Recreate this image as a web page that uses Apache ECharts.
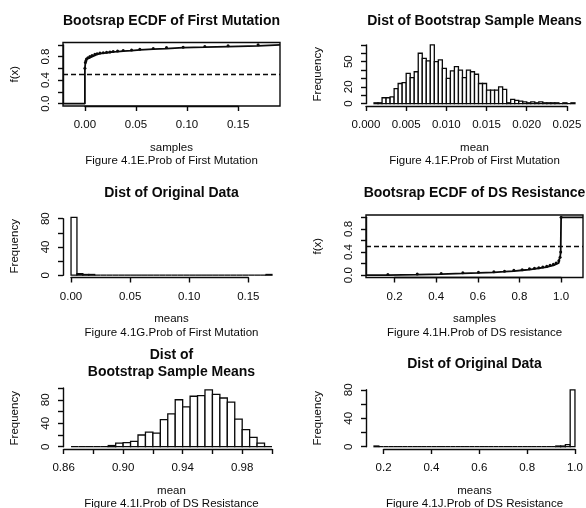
<!DOCTYPE html>
<html>
<head>
<meta charset="utf-8">
<title>Figure 4.1E-J</title>
<script src="https://cdn.jsdelivr.net/npm/echarts@6.0.0/dist/echarts.min.js"></script>
<style>
  html, body { margin: 0; padding: 0; background: #fff; }
  #chart { width: 586px; height: 508px; }
</style>
</head>
<body>
<div id="chart"></div>
<script>
// ---- values ----

// 4.1E  bootstrap ECDF of first mutation: jump points and ECDF level after each jump
const eStepX = [0.0000, 0.0005, 0.0010, 0.0016, 0.0030, 0.0049, 0.0070, 0.0098, 0.0120, 0.0147, 0.0180, 0.0212,
                0.0245, 0.0277, 0.0320, 0.0375, 0.0457, 0.0538, 0.0669, 0.0799, 0.0962, 0.1174, 0.1402, 0.1696];
const eStepF = [0.60, 0.70, 0.73, 0.76, 0.78, 0.80, 0.82, 0.84, 0.85, 0.86, 0.865, 0.874,
                0.88, 0.886, 0.895, 0.903, 0.914, 0.926, 0.937, 0.954, 0.96, 0.97, 0.983, 1.0];

// 4.1F  bootstrap sample means histogram (breaks from 0.001, width 0.0005)
const fBreak0 = 0.001, fBinWidth = 0.0005;
const fCounts = [1, 1, 7, 7, 8, 18, 24, 25, 36, 31, 38, 60, 54, 51, 70, 50, 52, 42, 30, 39,
                 44, 40, 31, 40, 38, 35, 24, 24, 16, 16, 16, 20, 17, 1, 5, 4, 3, 2, 1, 2,
                 1, 2, 1, 1, 1, 1, 0, 1, 0, 1];

// 4.1G  original data histogram (breaks from 0, width 0.005)
const gBreak0 = 0, gBinWidth = 0.005;
const gCounts = [82, 2, 1, 1, 0, 0, 0, 0, 0, 0, 0, 0, 0, 0, 0, 0, 0,
                 0, 0, 0, 0, 0, 0, 0, 0, 0, 0, 0, 0, 0, 0, 0, 0, 1];

// 4.1H  bootstrap ECDF of DS resistance
const hStepX = [0.168, 0.309, 0.424, 0.528, 0.603, 0.677, 0.728, 0.773, 0.813, 0.848, 0.872,
                0.893, 0.912, 0.931, 0.947, 0.963, 0.976, 0.989, 0.995, 0.998, 1.0];
const hStepF = [0.01, 0.02, 0.03, 0.04, 0.05, 0.06, 0.07, 0.085, 0.095, 0.11, 0.12,
                0.13, 0.14, 0.155, 0.17, 0.19, 0.21, 0.25, 0.31, 0.40, 1.0];

// 4.1I  bootstrap sample means histogram (breaks from 0.865, width 0.005)
const iBreak0 = 0.865, iBinWidth = 0.005;
const iCounts = [0, 0, 0, 0, 0, 2, 6, 7, 9, 20, 25, 23, 46, 56, 80, 68, 86, 87, 97, 89,
                 83, 76, 47, 29, 16, 6, 0];

// 4.1J  original data histogram (breaks from 0.16, width 0.02)
const jBreak0 = 0.16, jBinWidth = 0.02;
const jCounts = [1, 0, 0, 0, 0, 0, 0, 0, 0, 0, 0, 0, 0, 0, 0, 0, 0, 0, 0, 0, 0,
                 0, 0, 0, 0, 0, 0, 0, 0, 0, 0, 0, 0, 0, 0, 0, 0, 0, 1, 1, 3, 80];

// tick marks and the tick labels R kept
const ecdfYTicks = [0, 0.2, 0.4, 0.6, 0.8, 1.0];
const ecdfYLabels = [0, 0.4, 0.8];
const eXTicks = [0, 0.05, 0.10, 0.15];
const fXTicks = [0, 0.005, 0.010, 0.015, 0.020, 0.025];
const fYTicks = [0, 10, 20, 30, 40, 50, 60, 70];
const fYLabels = [0, 20, 50];
const gXTicks = [0, 0.05, 0.10, 0.15];
const gYTicks = [0, 20, 40, 60, 80];
const gYLabels = [0, 40, 80];
const hXTicks = [0.2, 0.4, 0.6, 0.8, 1.0];
const iXTicks = [0.86, 0.88, 0.90, 0.92, 0.94, 0.96, 0.98, 1.00];
const iXLabels = [0.86, 0.90, 0.94, 0.98];
const iYTicks = [0, 20, 40, 60, 80, 100];
const iYLabels = [0, 40, 80];
const jXTicks = [0.2, 0.4, 0.6, 0.8, 1.0];
const jYTicks = [0, 20, 40, 60, 80];
const jYLabels = [0, 40, 80];

// ---- layout ----
const FONT = '"Liberation Sans", Arial, Helvetica, sans-serif';
const INK = '#0a0a0a';
const COL_LEFT = [63, 366];
const COL_WIDTH = 217;
const ROW_TOP = [42.5, 215, 387.5];
const ROW_HEIGHT = [63.5, 62.5, 61.5];

const panels = [
  { col: 0, row: 0, kind: 'ecdf', stepX: eStepX, stepF: eStepF, box: true,
    title: 'Bootsrap ECDF of First Mutation', titleTop: 13,
    xName: 'samples', caption: 'Figure 4.1E.Prob of First Mutation', yName: 'f(x)',
    xTicks: eXTicks, xLabels: eXTicks, xDigits: 2, yTicks: ecdfYTicks, yLabels: ecdfYLabels, yDigits: 1 },
  { col: 1, row: 0, kind: 'hist', b0: fBreak0, w: fBinWidth, counts: fCounts,
    title: 'Dist of Bootstrap Sample Means', titleTop: 13,
    xName: 'mean', caption: 'Figure 4.1F.Prob of First Mutation', yName: 'Frequency',
    xTicks: fXTicks, xLabels: fXTicks, xDigits: 3, yTicks: fYTicks, yLabels: fYLabels, yDigits: 0 },
  { col: 0, row: 1, kind: 'hist', b0: gBreak0, w: gBinWidth, counts: gCounts,
    title: 'Dist of Original Data', titleTop: 184.5,
    xName: 'means', caption: 'Figure 4.1G.Prob of First Mutation', yName: 'Frequency',
    xTicks: gXTicks, xLabels: gXTicks, xDigits: 2, yTicks: gYTicks, yLabels: gYLabels, yDigits: 0 },
  { col: 1, row: 1, kind: 'ecdf', stepX: hStepX, stepF: hStepF, box: true,
    title: 'Bootsrap ECDF of DS Resistance', titleTop: 184.5,
    xName: 'samples', caption: 'Figure 4.1H.Prob of DS resistance', yName: 'f(x)',
    xTicks: hXTicks, xLabels: hXTicks, xDigits: 1, yTicks: ecdfYTicks, yLabels: ecdfYLabels, yDigits: 1 },
  { col: 0, row: 2, kind: 'hist', b0: iBreak0, w: iBinWidth, counts: iCounts,
    title: 'Dist of\nBootstrap Sample Means', titleTop: 346.5,
    xName: 'mean', caption: 'Figure 4.1I.Prob of DS Resistance', yName: 'Frequency',
    xTicks: iXTicks, xLabels: iXLabels, xDigits: 2, yTicks: iYTicks, yLabels: iYLabels, yDigits: 0 },
  { col: 1, row: 2, kind: 'hist', b0: jBreak0, w: jBinWidth, counts: jCounts,
    title: 'Dist of Original Data', titleTop: 356,
    xName: 'means', caption: 'Figure 4.1J.Prob of DS Resistance', yName: 'Frequency',
    xTicks: jXTicks, xLabels: jXTicks, xDigits: 1, yTicks: jYTicks, yLabels: jYLabels, yDigits: 0 }
];

// R's default scales: hist spans the breaks, plot.ecdf pads the knots by 8%; both then add 4%
function histLims(p) {
  const b1 = p.b0 + p.counts.length * p.w, pad = 0.04 * (b1 - p.b0);
  const top = Math.max(...p.counts);
  return { xlim: [p.b0 - pad, b1 + pad], ylim: [-0.04 * top, 1.04 * top] };
}
function ecdfLims(p) {
  const lo = p.stepX[0], hi = p.stepX[p.stepX.length - 1], dr = 0.08 * (hi - lo);
  const a = lo - dr, b = hi + dr, pad = 0.04 * (b - a);
  return { xlim: [a - pad, b + pad], ylim: [-0.04, 1.04] };
}
function labelFormatter(labels, digits) {
  return v => labels.some(l => Math.abs(l - v) < 1e-9) ? v.toFixed(digits) : '';
}
function renderBin(params, api) {
  const a = api.coord([api.value(0), 0]);
  const b = api.coord([api.value(1), api.value(2)]);
  return {
    type: 'rect',
    shape: { x: a[0], y: b[1], width: b[0] - a[0], height: a[1] - b[1] },
    style: { fill: '#fff', stroke: INK, lineWidth: 1.3 }
  };
}

const axisLineStyle = { color: INK, width: 1.4 };
const tickFont = { fontFamily: FONT, fontSize: 11.5, color: INK };
const nameFont = { fontFamily: FONT, fontSize: 11.5, color: INK };

const option = { animation: false, backgroundColor: '#fff', title: [], grid: [], xAxis: [], yAxis: [], series: [] };

panels.forEach(p => {
  const L = COL_LEFT[p.col], W = COL_WIDTH, T = ROW_TOP[p.row], H = ROW_HEIGHT[p.row];
  const lims = p.kind === 'ecdf' ? ecdfLims(p) : histLims(p);
  const [x0, x1] = lims.xlim, [y0, y1] = lims.ylim;
  const g = option.grid.length;

  // plot region (data)
  option.grid.push({ left: L, top: T, width: W, height: H, show: !!p.box, borderColor: INK, borderWidth: 1.4,
                     backgroundColor: 'transparent', containLabel: false, outerBoundsMode: 'none' });
  option.xAxis.push({ gridIndex: g, type: 'value', min: x0, max: x1,
    axisLine: { show: false }, axisTick: { show: false }, axisLabel: { show: false }, splitLine: { show: false },
    name: p.xName + '\n' + p.caption, nameLocation: 'middle', nameGap: 35,
    nameTextStyle: Object.assign({ lineHeight: 13.5 }, nameFont) });
  option.yAxis.push({ gridIndex: g, type: 'value', min: y0, max: y1,
    axisLine: { show: false }, axisTick: { show: false }, axisLabel: { show: false }, splitLine: { show: false },
    name: p.yName, nameLocation: 'middle', nameRotate: 90, nameGap: 42, nameTextStyle: nameFont });

  // x axis drawn from first to last tick, like R's axis()
  const xt = p.xTicks, xa = xt[0], xb = xt[xt.length - 1];
  option.grid.push({ left: L + (xa - x0) / (x1 - x0) * W, width: (xb - xa) / (x1 - x0) * W, top: T, height: H,
                     containLabel: false, outerBoundsMode: 'none' });
  option.xAxis.push({ gridIndex: g + 1, type: 'value', min: xa, max: xb, interval: +(xt[1] - xt[0]).toFixed(6),
    axisLine: { show: true, onZero: false, lineStyle: axisLineStyle },
    axisTick: { show: true, length: 5, lineStyle: axisLineStyle },
    axisLabel: Object.assign({ margin: 13, showMinLabel: true, showMaxLabel: true, hideOverlap: false,
                               formatter: labelFormatter(p.xLabels, p.xDigits) }, tickFont),
    splitLine: { show: false } });
  option.yAxis.push({ gridIndex: g + 1, type: 'value', show: false, min: 0, max: 1 });

  // y axis drawn from first to last tick
  const yt = p.yTicks, ya = yt[0], yb = yt[yt.length - 1];
  option.grid.push({ left: L, width: W, top: T + (y1 - yb) / (y1 - y0) * H, height: (yb - ya) / (y1 - y0) * H,
                     containLabel: false, outerBoundsMode: 'none' });
  option.xAxis.push({ gridIndex: g + 2, type: 'value', show: false, min: 0, max: 1 });
  option.yAxis.push({ gridIndex: g + 2, type: 'value', min: ya, max: yb, interval: +(yt[1] - yt[0]).toFixed(6),
    axisLine: { show: true, onZero: false, lineStyle: axisLineStyle },
    axisTick: { show: true, length: 5, lineStyle: axisLineStyle },
    axisLabel: Object.assign({ rotate: 90, margin: 11, showMinLabel: true, showMaxLabel: true, hideOverlap: false,
                               formatter: labelFormatter(p.yLabels, p.yDigits) }, tickFont),
    splitLine: { show: false } });

  option.title.push({ text: p.title, left: L + W / 2, top: p.titleTop, textAlign: 'center', padding: 0,
    textStyle: { fontFamily: FONT, fontSize: 14, fontWeight: 'bold', color: INK, lineHeight: 17 } });

  if (p.kind === 'hist') {
    option.series.push({
      type: 'custom', xAxisIndex: g, yAxisIndex: g, renderItem: renderBin, silent: true,
      encode: { x: [0, 1], y: 2 },
      data: p.counts.map((c, i) => [p.b0 + i * p.w, p.b0 + (i + 1) * p.w, c])
    });
  } else {
    const pts = [{ value: [x0, 0], symbol: 'none' }]
      .concat(p.stepX.map((x, i) => [x, p.stepF[i]]))
      .concat([{ value: [x1, 1], symbol: 'none' }]);
    option.series.push({
      type: 'line', xAxisIndex: g, yAxisIndex: g, step: 'end', data: pts, silent: true,
      symbol: 'circle', symbolSize: 3, showAllSymbol: true,
      lineStyle: { color: INK, width: 1.8 }, itemStyle: { color: INK },
      markLine: { silent: true, symbol: 'none', label: { show: false },
                  lineStyle: { color: INK, type: [5, 3], width: 1.3 }, data: [{ yAxis: 0.5 }] }
    });
  }
});

const chart = echarts.init(document.getElementById('chart'));
chart.setOption(option);
</script>
</body>
</html>
